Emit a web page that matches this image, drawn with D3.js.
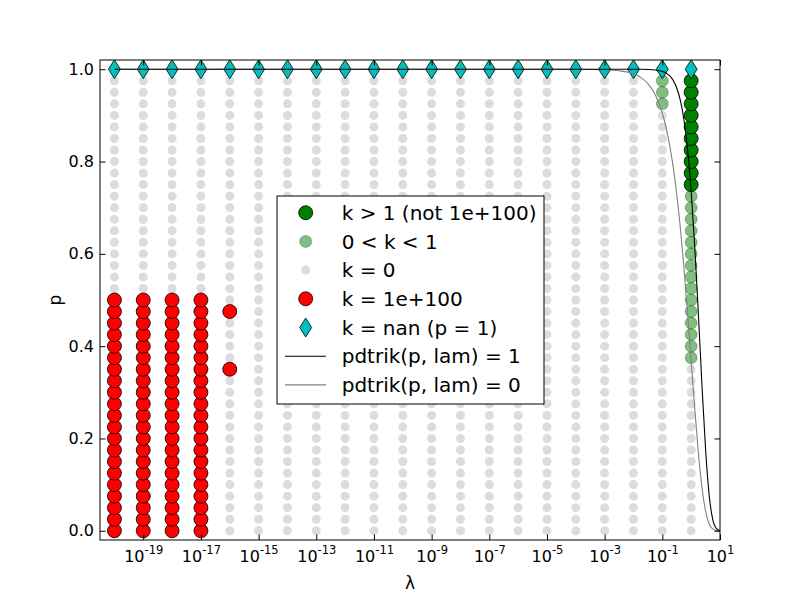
<!DOCTYPE html>
<html>
<head>
<meta charset="utf-8">
<script src="https://cdn.jsdelivr.net/npm/d3@7"></script>
<style>
  body { margin: 0; background: #fff; }
  text { font-family: "DejaVu Sans", sans-serif; }
</style>
</head>
<body>
<div id="chart"></div>
<script>
// grid of lambda (as powers of ten) and p
const lamExps = [-20, -19, -18, -17, -16, -15, -14, -13, -12, -11, -10, -9, -8, -7, -6, -5, -4, -3, -2, -1, 0];
const pGrid = [0, 0.025, 0.05, 0.075, 0.1, 0.125, 0.15, 0.175, 0.2, 0.225, 0.25, 0.275, 0.3, 0.325, 0.35, 0.375,
  0.4, 0.425, 0.45, 0.475, 0.5, 0.525, 0.55, 0.575, 0.6, 0.625, 0.65, 0.675, 0.7, 0.725, 0.75, 0.775,
  0.8, 0.825, 0.85, 0.875, 0.9, 0.925, 0.95, 0.975, 1];

// k = 1e+100
const hugeLams = [-20, -19, -18, -17];
const hugeP = [0, 0.025, 0.05, 0.075, 0.1, 0.125, 0.15, 0.175, 0.2, 0.225, 0.25, 0.275, 0.3, 0.325, 0.35,
  0.375, 0.4, 0.425, 0.45, 0.475, 0.5];
const hugeExtra = [{ e: -16, p: 0.35 }, { e: -16, p: 0.475 }];

// k > 1 (lambda = 1)
const bigP = [0.75, 0.775, 0.8, 0.825, 0.85, 0.875, 0.9, 0.925, 0.95, 0.975];

// 0 < k < 1
const smallPLam1 = [0.375, 0.4, 0.425, 0.45, 0.475, 0.5, 0.525, 0.55, 0.575, 0.6, 0.625, 0.65, 0.675, 0.7, 0.725];
const smallPLam01 = [0.925, 0.95, 0.975];

// contour curves
const curveExps = [-20, -4, -3, -2.5, -2, -1.75, -1.5, -1.25, -1, -0.875, -0.75, -0.625, -0.5, -0.375, -0.25,
  -0.125, 0, 0.125, 0.25, 0.375, 0.5, 0.625, 0.75, 0.875, 1];
const curveK1 = [1, 1, 1, 1, 0.99995, 0.99984, 0.99951, 0.99848, 0.99532, 0.99186, 0.98593, 0.97595, 0.9594,
  0.93254, 0.89039, 0.82668, 0.73576, 0.615, 0.46933, 0.31473, 0.17619, 0.07692, 0.02393, 0.0047, 0.0005];
const curveK0 = [1, 0.9999, 0.999, 0.99684, 0.99005, 0.98238, 0.96887, 0.94532, 0.90484, 0.87516, 0.83708,
  0.78888, 0.7289, 0.65594, 0.56991, 0.47242, 0.36788, 0.26355, 0.16893, 0.09335, 0.04233, 0.01474, 0.00361,
  0.00055, 0.00005];

const xTickExps = [-19, -17, -15, -13, -11, -9, -7, -5, -3, -1, 1];
const yTicks = [0, 0.2, 0.4, 0.6, 0.8, 1.0];

const width = 800, height = 600;
const margin = { top: 60, right: 80, bottom: 60, left: 100 };

const svg = d3.select("#chart")
  .append("svg")
    .attr("width", width)
    .attr("height", height);

const x = d3.scaleLog()
  .domain([Math.pow(10, -20.5), 10])
  .range([margin.left, width - margin.right]);

const y = d3.scaleLinear()
  .domain([-0.02, 1.02])
  .range([height - margin.bottom, margin.top]);

const classify = (e, p) => {
  if (p === 1) return "nan";
  if (hugeLams.includes(e) && hugeP.includes(p)) return "huge";
  if (hugeExtra.some(d => d.e === e && d.p === p)) return "huge";
  if (e === 0 && bigP.includes(p)) return "big";
  if (e === 0 && smallPLam1.includes(p)) return "small";
  if (e === -1 && smallPLam01.includes(p)) return "small";
  return "zero";
};

const points = [];
lamExps.forEach(e => {
  pGrid.forEach(p => {
    points.push({ lam: Math.pow(10, e), p: p, cls: classify(e, p) });
  });
});

const styles = {
  big:   { r: 7,   fill: "#008000", fillOpacity: 1,   stroke: "#000", strokeOpacity: 1 },
  small: { r: 6,   fill: "#008000", fillOpacity: 0.5, stroke: "#000", strokeOpacity: 0.3 },
  zero:  { r: 4.5, fill: "#dcdcdc", fillOpacity: 1,   stroke: "none", strokeOpacity: 0 },
  huge:  { r: 7,   fill: "#ff0000", fillOpacity: 1,   stroke: "#000", strokeOpacity: 1 }
};

const diamond = (w, h) => `M0,${-h / 2}L${w / 2},0L0,${h / 2}L${-w / 2},0Z`;

svg.append("defs").append("clipPath")
    .attr("id", "plot-clip")
  .append("rect")
    .attr("x", margin.left)
    .attr("y", margin.top)
    .attr("width", width - margin.left - margin.right)
    .attr("height", height - margin.top - margin.bottom);

const plot = svg.append("g").attr("clip-path", "url(#plot-clip)");

["zero", "small", "big", "huge"].forEach(cls => {
  const s = styles[cls];
  plot.selectAll(`.pt-${cls}`)
    .data(points.filter(d => d.cls === cls))
    .join("circle")
      .attr("class", `pt-${cls}`)
      .attr("cx", d => x(d.lam))
      .attr("cy", d => y(d.p))
      .attr("r", s.r)
      .attr("fill", s.fill)
      .attr("fill-opacity", s.fillOpacity)
      .attr("stroke", s.stroke)
      .attr("stroke-opacity", s.strokeOpacity)
      .attr("stroke-width", 0.8);
});

plot.selectAll(".pt-nan")
  .data(points.filter(d => d.cls === "nan"))
  .join("path")
    .attr("class", "pt-nan")
    .attr("transform", d => `translate(${x(d.lam)},${y(d.p)})`)
    .attr("d", diamond(12, 19))
    .attr("fill", "#00bfbf")
    .attr("stroke", "#000")
    .attr("stroke-width", 0.8);

const line = d3.line()
  .x(d => x(Math.pow(10, d[0])))
  .y(d => y(d[1]))
  .curve(d3.curveMonotoneX);

plot.append("path")
  .attr("d", line(d3.zip(curveExps, curveK0)))
  .attr("fill", "none")
  .attr("stroke", "#808080")
  .attr("stroke-width", 1.1);

plot.append("path")
  .attr("d", line(d3.zip(curveExps, curveK1)))
  .attr("fill", "none")
  .attr("stroke", "#000")
  .attr("stroke-width", 1.1);

// axes, ticks pointing inward on all four sides
const tickLen = 5.5;
const innerH = height - margin.top - margin.bottom;
const innerW = width - margin.left - margin.right;
const xTickVals = xTickExps.map(e => Math.pow(10, e));

const xAxis = svg.append("g")
  .attr("transform", `translate(0, ${height - margin.bottom})`)
  .call(d3.axisBottom(x).tickValues(xTickVals).tickSize(-tickLen).tickFormat(""));

xAxis.selectAll(".tick")
  .append("text")
    .attr("y", 21.7)
    .attr("text-anchor", "middle")
    .attr("fill", "#000")
    .style("font-size", "16px")
    .each(function(d, i) {
      const t = d3.select(this);
      t.append("tspan").text("10");
      t.append("tspan")
        .attr("dy", -7.7)
        .style("font-size", "11.5px")
        .text(String(xTickExps[i]));
    });

svg.append("g")
  .attr("transform", `translate(0, ${margin.top})`)
  .call(d3.axisTop(x).tickValues(xTickVals).tickSize(-tickLen).tickFormat(""));

svg.append("g")
  .attr("transform", `translate(${margin.left}, 0)`)
  .call(d3.axisLeft(y).tickValues(yTicks).tickSize(-tickLen).tickPadding(6).tickFormat(d3.format(".1f")))
  .call(g => g.selectAll("text").style("font-size", "16px").attr("fill", "#000"));

svg.append("g")
  .attr("transform", `translate(${width - margin.right}, 0)`)
  .call(d3.axisRight(y).tickValues(yTicks).tickSize(-tickLen).tickFormat(""));

svg.selectAll(".domain").remove();
svg.selectAll(".tick line").attr("stroke", "#000");

svg.append("rect")
  .attr("x", margin.left)
  .attr("y", margin.top)
  .attr("width", innerW)
  .attr("height", innerH)
  .attr("fill", "none")
  .attr("stroke", "#000")
  .attr("stroke-width", 1);

svg.append("text")
  .attr("x", 410)
  .attr("y", 589)
  .attr("text-anchor", "middle")
  .style("font-size", "17px")
  .text("λ");

svg.append("text")
  .attr("transform", "translate(61, 300) rotate(-90)")
  .attr("text-anchor", "middle")
  .style("font-size", "17px")
  .text("p");

// legend
const legendItems = [
  { label: "k > 1 (not 1e+100)", type: "circle", cls: "big" },
  { label: "0 < k < 1", type: "circle", cls: "small" },
  { label: "k = 0", type: "circle", cls: "zero" },
  { label: "k = 1e+100", type: "circle", cls: "huge" },
  { label: "k = nan (p = 1)", type: "diamond" },
  { label: "pdtrik(p, lam) = 1", type: "line", color: "#000" },
  { label: "pdtrik(p, lam) = 0", type: "line", color: "#808080" }
];

const legend = svg.append("g").attr("transform", "translate(277, 196)");

legend.append("rect")
  .attr("width", 267)
  .attr("height", 208)
  .attr("fill", "#fff")
  .attr("stroke", "#000")
  .attr("stroke-width", 1);

const rows = legend.selectAll(".legend-row")
  .data(legendItems)
  .join("g")
    .attr("class", "legend-row")
    .attr("transform", (d, i) => `translate(0, ${16.7 + i * 28.7})`);

rows.each(function(d) {
  const g = d3.select(this);
  if (d.type === "circle") {
    const s = styles[d.cls];
    g.append("circle")
      .attr("cx", 28.7)
      .attr("r", s.r)
      .attr("fill", s.fill)
      .attr("fill-opacity", s.fillOpacity)
      .attr("stroke", s.stroke)
      .attr("stroke-opacity", s.strokeOpacity)
      .attr("stroke-width", 0.8);
  } else if (d.type === "diamond") {
    g.append("path")
      .attr("transform", "translate(28.7, 0)")
      .attr("d", diamond(12, 19))
      .attr("fill", "#00bfbf")
      .attr("stroke", "#000")
      .attr("stroke-width", 0.8);
  } else {
    g.append("line")
      .attr("x1", 8)
      .attr("x2", 49)
      .attr("stroke", d.color)
      .attr("stroke-width", 1.1);
  }
  g.append("text")
    .attr("x", 64.7)
    .attr("dy", "0.36em")
    .style("font-size", "20px")
    .text(d.label);
});
</script>
</body>
</html>
